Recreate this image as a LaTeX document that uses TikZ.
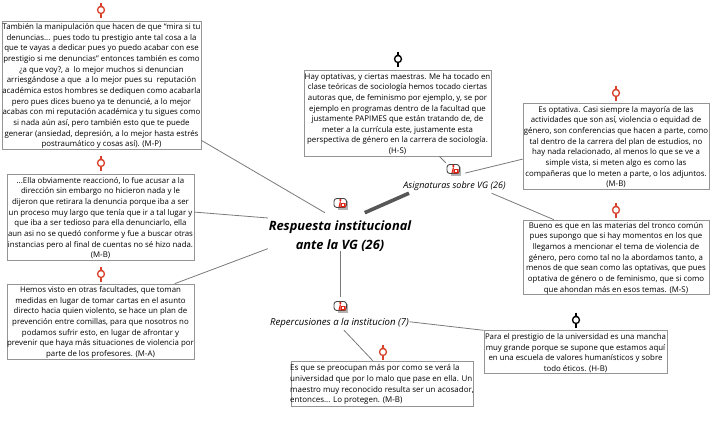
\documentclass[tikz,border=0pt]{standalone}
\usepackage{fontspec}
\setmainfont{Open Sans}
\tikzset{
  x=1pt,y=-1pt,
  qframe/.style={draw=black!42,line width=0.7pt,fill=white,inner sep=0pt},
  qtext/.style={inner sep=0pt,align=center,font=\fontsize{7.85}{10.65}\selectfont,text=black},
  conn/.style={draw=black!52,line width=0.8pt},
  thickconn/.style={draw=black!66,line width=3.6pt},
  codelabel/.style={inner sep=0pt,align=center,font=\fontsize{#1}{10}\selectfont\itshape},
  maintitle/.style={inner sep=0pt,align=center,minimum width=144pt,minimum height=38pt,font=\fontsize{12.85}{18.2}\selectfont\bfseries\itshape},
  iconbox/.style={inner sep=0pt,minimum width=22pt,minimum height=12pt},
  qmark/.style={circle,draw=#1,fill=white,line width=1.3pt,inner sep=0pt,minimum size=7pt},
}
\definecolor{qred}{HTML}{D8412B}
\definecolor{iconred}{HTML}{E02010}
\newcommand{\quotemark}[3]{%
  \draw[#3,line width=1.2pt] (#1,#2-7.5) -- (#1,#2+7.5);
  \fill[#3] (#1,#2-5.6) -- (#1+2.6,#2-2.6) -- (#1-2.6,#2-2.6) -- cycle;
  \node[qmark=#3] at (#1,#2) {};
}
\newcommand{\codeicon}[2]{%
  \fill[black!30] (#1-3,#2-2) rectangle (#1+6.5,#2+6.5);
  \draw[black!72,fill=white,line width=0.9pt,rounded corners=2.8pt] (#1-7,#2-4.5) rectangle (#1+5.5,#2+4.5);
  \fill[iconred] (#1-0.6,#2-3) circle (1.2);
  \draw[iconred,line width=1.1pt] (#1-0.6,#2-1.6) -- (#1-2,#2+4);
  \fill[iconred] (#1-0.4,#2+0.2) -- (#1+4.6,#2+0.2) -- (#1+4.8,#2+4.4) -- (#1-0.8,#2+4.4) -- cycle;
  \fill[white] (#1+1.2,#2+1.4) rectangle (#1+3.2,#2+3);
}
% name, x, y, width, height, text shift, text options, text
\newcommand{\qbox}[8]{%
  \node[qframe,minimum width=#4pt,minimum height=#5pt] (#1) at (#2,#3) {};
  \node[qtext,#7] (#1t) at (#2,#3+#6) {#8};
}
\begin{document}
\begin{tikzpicture}
\useasboundingbox[fill=white] (0,0) rectangle (718,432);

\qbox{b1}{101.5}{85}{199}{128}{1.2}{}{También la manipulación que hacen de que “mira si tu\\denuncias... pues todo tu prestigio ante tal cosa a la\\que te vayas a dedicar pues yo puedo acabar con ese\\prestigio si me denuncias” entonces también es como\\¿a que voy?, a\ \ lo mejor muchos si denuncian\\arriesgándose a que\ \ a lo mejor pues su\ \ reputación\\académica estos hombres se dediquen como acabarla\\pero pues dices bueno ya te denuncié, a lo mejor\\acabas con mi reputación académica y tu sigues como\\si nada aún así, pero también esto que te puede\\generar (ansiedad, depresión, a lo mejor hasta estrés\\postraumático y cosas así). (M-P)}
\qbox{b2}{100.5}{217}{187}{86}{1}{}{...Ella obviamente reaccionó, lo fue acusar a la\\dirección sin embargo no hicieron nada y le\\dijeron que retirara la denuncia porque iba a ser\\un proceso muy largo que tenía que ir a tal lugar y\\que iba a ser tedioso para ella denunciarlo, ella\\aun asi no se quedó conforme y fue a buscar otras\\instancias pero al final de cuentas no sé hizo nada.\\(M-B)}
\qbox{b3}{100.5}{321.5}{187}{75}{1}{}{Hemos visto en otras facultades, que toman\\medidas en lugar de tomar cartas en el asunto\\directo hacia quien violento, se hace un plan de\\prevención entre comillas, para que nosotros no\\podamos sufrir esto, en lugar de afrontar y\\prevenir que haya más situaciones de violencia por\\parte de los profesores. (M-A)}
\qbox{b4}{397.5}{113}{187}{86}{1}{}{Hay optativas, y ciertas maestras. Me ha tocado en\\clase teóricas de sociología hemos tocado ciertas\\autoras que, de feminismo por ejemplo, y, se por\\ejemplo en programas dentro de la facultad que\\justamente PAPIMES que están tratando de, de\\meter a la currícula este, justamente esta\\perspectiva de género en la carrera de sociología.\\(H-S)}
\qbox{b5}{616}{146}{186}{86}{1}{}{Es optativa. Casi siempre la mayoría de las\\actividades que son así, violencia o equidad de\\género, son conferencias que hacen a parte, como\\tal dentro de la carrera del plan de estudios, no\\hay nada relacionado, al menos lo que se ve a\\simple vista, si meten algo es como las\\compañeras que lo meten a parte, o los adjuntos.\\(M-B)}
\qbox{b6}{616}{257}{186}{74}{1}{}{Bueno es que en las materias del tronco común\\pues supongo que si hay momentos en los que\\llegamos a mencionar el tema de violencia de\\género, pero como tal no la abordamos tanto, a\\menos de que sean como las optativas, que pues\\optativa de género o de feminismo, que si como\\que ahondan más en esos temas. (M-S)}
\qbox{b7}{575.5}{351.5}{183}{43}{1.5}{}{Para el prestigio de la universidad es una mancha\\muy grande porque se supone que estamos aquí\\en una escuela de valores humanísticos y sobre\\todo éticos. (H-B)}
\qbox{b8}{382}{383.5}{182}{45}{1}{align=left,font=\fontsize{7.95}{10.9}\selectfont}{Es que se preocupan más por como se verá la\\universidad que por lo malo que pase en ella. Un\\maestro muy reconocido resulta ser un acosador,\\entonces... Lo protegen. (M-B)}

\node[maintitle] (main) at (340,232) {\rule{0pt}{18pt}Respuesta institucional\\ante la VG (26)};
\node[codelabel=9.0,minimum width=104pt,minimum height=14pt] (asig) at (454.5,186) {Asignaturas sobre VG (26)};
\node[codelabel=9.6,minimum width=140pt,minimum height=14pt] (reper) at (339.5,323) {Repercusiones a la institucion (7)};

\node[iconbox] (imain) at (341,203) {};
\node[iconbox] (iasig) at (454,169) {};
\node[iconbox] (irep) at (341,306) {};
\codeicon{341}{203}
\codeicon{454}{169}
\codeicon{341}{306}

\draw[conn] (b1.-29) -- (main.128);
\draw[conn] (b2.3) -- (main.169);
\draw[conn] (b3.27) -- (main.193);
\draw[conn,shorten >=3pt] (main.south) -- (main.south |- irep.north);
\draw[thickconn] (main.38) -- (asig.189.8);
\draw[conn] (b4.-46) -- (iasig.143);
\draw[conn] (iasig.-20) -- (b5.188);
\draw[conn] (asig.-11.5) -- (b6.149.6);
\draw[conn] (reper.1.6) -- (b7.167.4);
\draw[conn] (reper.-58) -- (b8.112);

\quotemark{101}{10}{qred}
\quotemark{101}{163}{qred}
\quotemark{101}{274}{qred}
\quotemark{398}{59}{black}
\quotemark{616}{93}{qred}
\quotemark{616}{210}{qred}
\quotemark{576}{320}{black}
\quotemark{383}{352}{qred}
\end{tikzpicture}
\end{document}
